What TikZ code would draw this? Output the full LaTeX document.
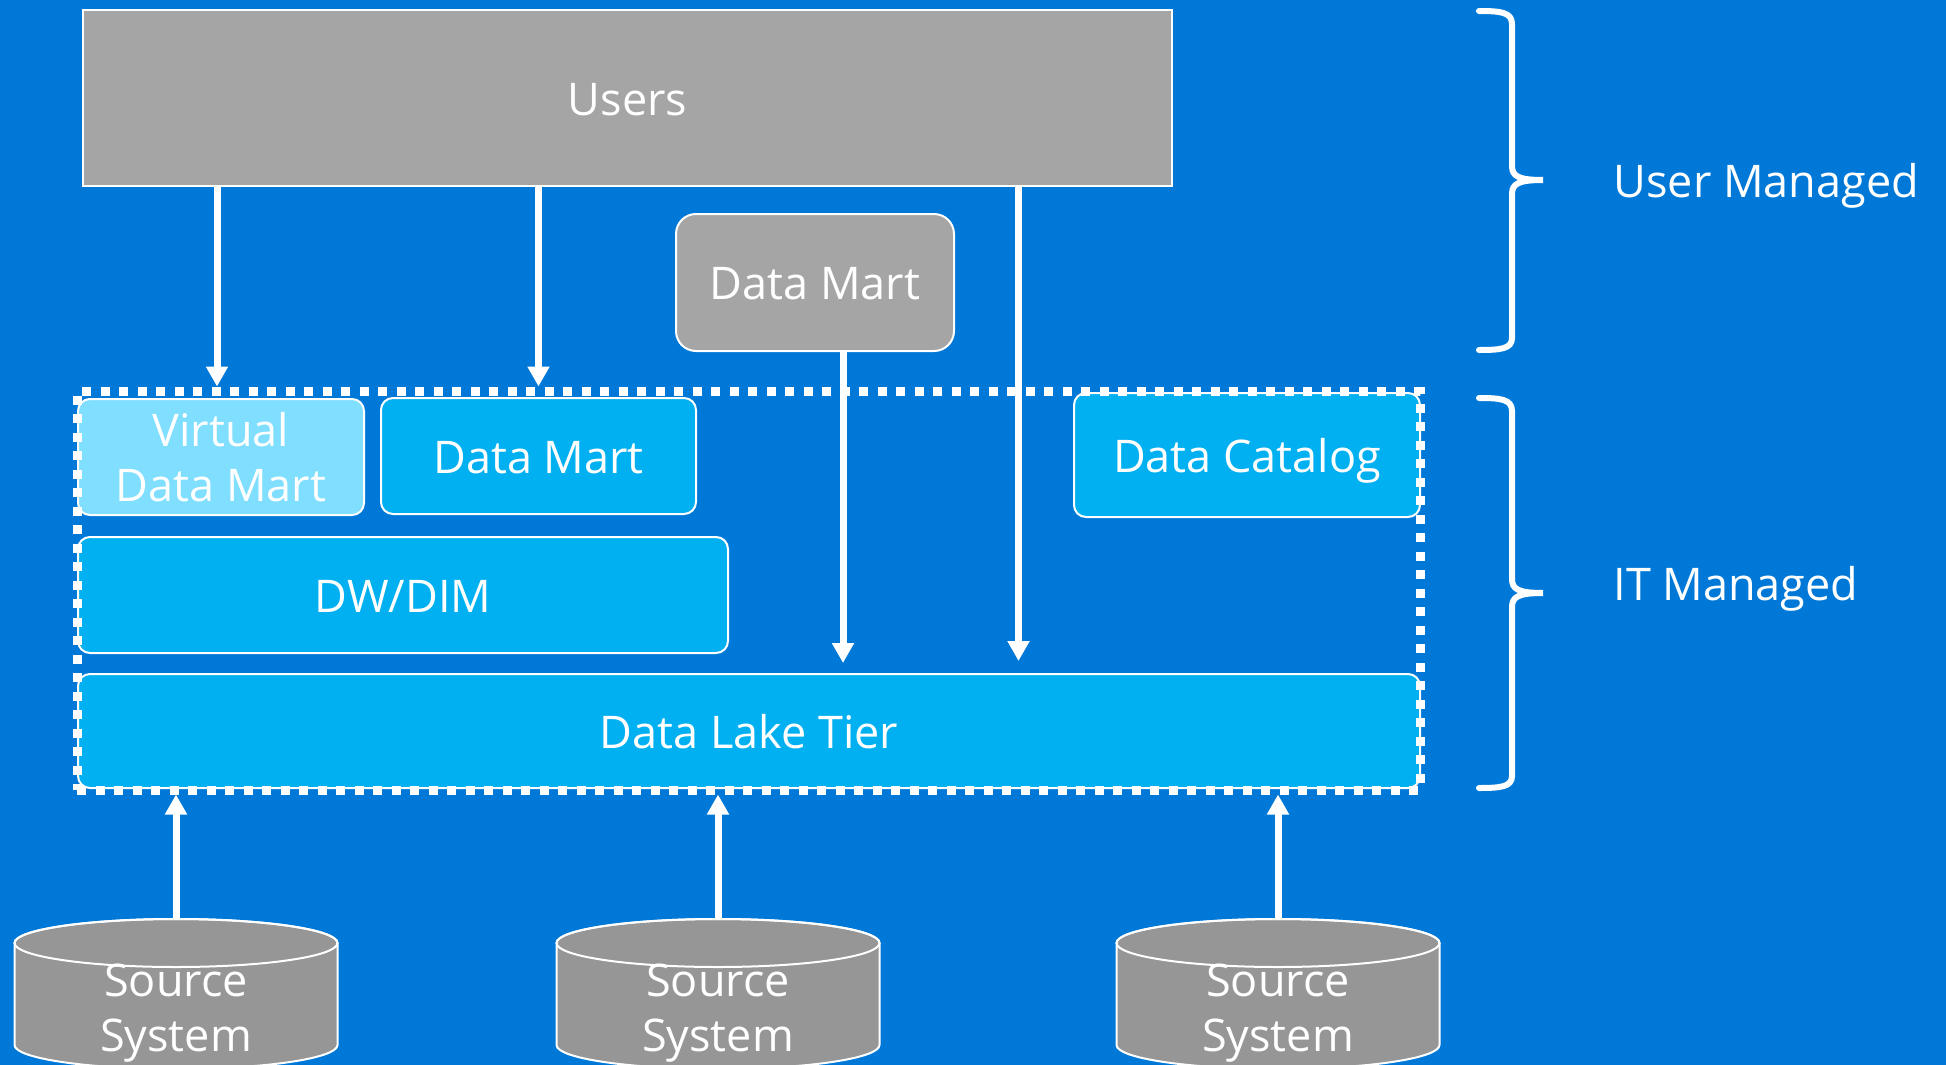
\documentclass[tikz,border=0pt]{standalone}
\usepackage{fontspec}
\setmainfont{Open Sans}
\usetikzlibrary{arrows.meta}
\definecolor{bgblue}{RGB}{0,120,215}
\definecolor{usergrey}{RGB}{165,165,165}
\definecolor{srcgrey}{RGB}{150,150,150}
\definecolor{tierblue}{RGB}{0,176,240}
\definecolor{virtblue}{RGB}{128,222,255}
\newcommand{\tierfont}{\fontsize{45}{55}\selectfont}

\begin{document}
\begin{tikzpicture}[x=1pt,y=-1pt,
	box/.style={draw=white,line width=2pt,text=white,font=\tierfont,align=center,inner sep=0pt},
	oneline/.style={text height=42pt,text depth=8pt},
	tier/.style={box,fill=tierblue,rounded corners=12pt},
	flow/.style={draw=white,line width=7pt,-{Triangle[width=21pt,length=20pt]}},
	bracket/.style={draw=white,line width=6pt,line cap=round}]
				\useasboundingbox (0,0) rectangle (1946,1065);
				\clip (0,0) rectangle (1946,1065);
				\fill[bgblue] (0,0) rectangle (1946,1065);

				\node[box,oneline,fill=usergrey,minimum width=1089pt,minimum height=176pt] (users) at (627.5,98) {Users};
				\node[box,oneline,fill=usergrey,rounded corners=20pt,minimum width=278pt,minimum height=137pt] (dmuser) at (815,282.5) {Data Mart};

				\node[tier,fill=virtblue,minimum width=286pt,minimum height=116pt] (vdm) at (221,457) {Virtual\\Data Mart};
				\node[tier,oneline,minimum width=315pt,minimum height=116pt] (dm) at (538.5,456) {Data Mart};
				\node[tier,oneline,minimum width=346pt,minimum height=124pt] (catalog) at (1247,455) {Data Catalog};
				\node[tier,oneline,minimum width=650pt,minimum height=116pt] (dw) at (403,595) {DW/DIM};
				\node[tier,oneline,minimum width=1342pt,minimum height=114pt] (lake) at (749,731) {Data Lake Tier};
				\node[draw=white,line width=9pt,dash pattern=on 9pt off 9.5pt,minimum width=1343pt,minimum height=399pt,inner sep=0pt] (itbox) at (748.5,590.5) {};

				% source systems
				\foreach \cx/\n in {176/1,718/2,1278/3} {
					\path[draw=white,fill=srcgrey,line width=2pt] (\cx-161.5,943) -- (\cx-161.5,1045)
						arc[start angle=180,end angle=0,x radius=161.5,y radius=24] -- (\cx+161.5,943)
						arc[start angle=0,end angle=-180,x radius=161.5,y radius=24] -- cycle;
					\draw[white,line width=2pt] (\cx,943) ellipse [x radius=161.5,y radius=24];
					\coordinate (src\n top) at (\cx,919);
					\node[text=white,font=\tierfont,align=center] (src\n) at (\cx,1013) {Source\\System};
					\draw[flow] (src\n top) -- (src\n top |- itbox.south);
				}

				\coordinate (vdmdrop) at ([xshift=-4pt]vdm.north);
				\coordinate (dmdrop) at ([xshift=28pt]dmuser.south);
				\coordinate (usrdrop) at ([xshift=391pt]users.south);
				\draw[flow] (users.south -| vdmdrop) -- (itbox.north -| vdmdrop);
				\draw[flow] (users.south -| dm.north) -- (itbox.north -| dm.north);
				\draw[flow,shorten >=10pt] (dmdrop) -- (dmdrop |- lake.north);
				\draw[flow,shorten >=12pt] (usrdrop) -- (usrdrop |- lake.north);

				% braces
				\draw[bracket] (1479,11) .. controls (1500,11) and (1512,12) .. (1512,24) -- (1512,166)
					.. controls (1512,176) and (1518,180) .. (1543,180)
					.. controls (1518,180) and (1512,184) .. (1512,194) -- (1512,338)
					.. controls (1512,349) and (1500,350) .. (1479,350);
				\draw[bracket] (1479,398) .. controls (1500,398) and (1512,399) .. (1512,411) -- (1512,579)
					.. controls (1512,589) and (1518,593) .. (1543,593)
					.. controls (1518,593) and (1512,597) .. (1512,607) -- (1512,776)
					.. controls (1512,787) and (1500,788) .. (1479,788);
				\node[oneline,text=white,font=\tierfont,anchor=west] (usermgd) at (1610,180) {User Managed};
				\node[oneline,text=white,font=\tierfont,anchor=west] (itmgd) at (1610,583) {IT Managed};
			\end{tikzpicture}
\end{document}
